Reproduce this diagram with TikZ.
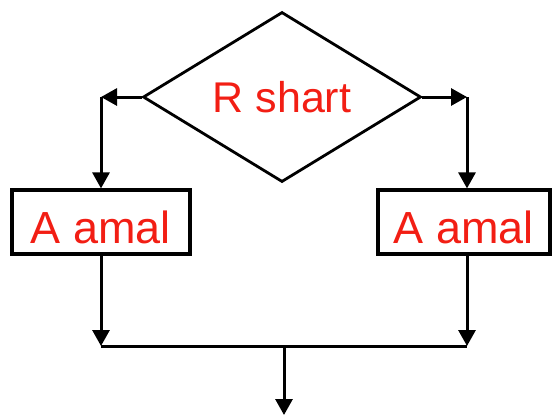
\documentclass[tikz,border=0pt]{standalone}
\usepackage{fontspec}
\setmainfont{Liberation Sans}
\usetikzlibrary{shapes.geometric,arrows.meta}
\definecolor{labelred}{RGB}{242,30,20}
\tikzset{
  flow/.style={line width=3pt,-{Triangle[length=16pt,width=17pt]}},
  plain/.style={line width=3pt},
  decision/.style={diamond,draw,line width=2.8pt,inner sep=0pt,aspect=1.635,
    minimum width=278pt,minimum height=170pt,text=labelred,
    font=\fontsize{43pt}{48pt}\selectfont},
  actbox/.style={rectangle,draw,line width=3.2pt,inner sep=0pt,
    minimum height=64pt,text=labelred,text height=42pt,text depth=0pt,
    font=\fontsize{45pt}{52pt}\selectfont}
}
\begin{document}
\begin{tikzpicture}[x=1pt,y=-1pt]
  \useasboundingbox (0,0) rectangle (553,416);
  % decision and the two action boxes
  \node[decision] (d) at (282,97) {R shart};
  \node[actbox,minimum width=178pt] (lbox) at (101,222) {A amal};
  \node[actbox,minimum width=172pt] (rbox) at (464,222) {A amal};
  % branch corners and merge points
  \coordinate (cl) at (101,97);
  \coordinate (cr) at (467,97);
  \coordinate (ml) at (101,346);
  \coordinate (mr) at (467,346);
  \coordinate (mc) at (284,346);
  \coordinate (out) at (284,415);
  % branches out of the decision
  \draw[flow] (d.west) -- (cl);
  \draw[flow] (cl) -- (lbox.north);
  \draw[flow] (d.east) -- (cr);
  \draw[flow] (cr) -- (cr |- rbox.north);
  % merge below the actions
  \draw[flow] (lbox.south) -- (ml);
  \draw[flow] (mr |- rbox.south) -- (mr);
  \draw[plain] (ml) -- (mr);
  \draw[flow] (mc) -- (out);
\end{tikzpicture}
\end{document}
